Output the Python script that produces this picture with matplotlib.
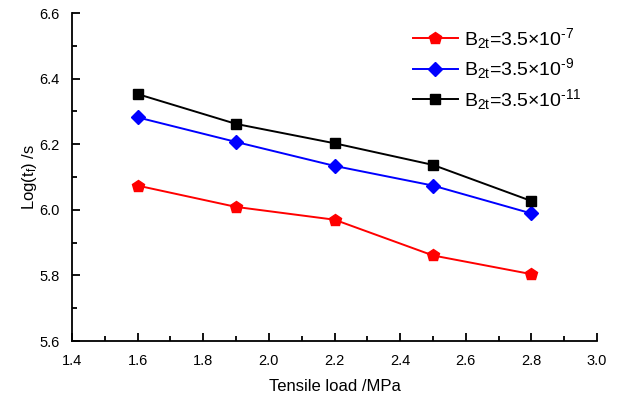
import matplotlib
matplotlib.use("Agg")
import matplotlib.pyplot as plt
from matplotlib.ticker import MultipleLocator

plt.rcParams["font.family"] = ["Liberation Sans", "DejaVu Sans"]
plt.rcParams["mathtext.fontset"] = "custom"
plt.rcParams["mathtext.rm"] = "Liberation Sans"
plt.rcParams["mathtext.it"] = "Liberation Sans"

load = [1.6, 1.9, 2.2, 2.5, 2.8]
b7 = [6.074, 6.009, 5.970, 5.861, 5.804]
b9 = [6.282, 6.207, 6.134, 6.074, 5.989]
b11 = [6.353, 6.262, 6.203, 6.137, 6.027]

series = [
    (b7, "red", "p", 9, r"B$_{\rm 2t}$=3.5×10$^{\text{-7}}$"),
    (b9, "blue", "D", 7.5, r"B$_{\rm 2t}$=3.5×10$^{\text{-9}}$"),
    (b11, "black", "s", 7.5, r"B$_{\rm 2t}$=3.5×10$^{\text{-11}}$"),
]

fig = plt.figure(figsize=(6.22, 4.08), dpi=100)
ax = fig.add_axes([0.1158, 0.164, 0.8442, 0.804])

for vals, color, marker, ms, label in series:
    ax.plot(load, vals, color=color, marker=marker, markersize=ms,
            linewidth=1.4, label=label)

ax.set_xlim(1.4, 3.0)
ax.set_ylim(5.6, 6.6)
ax.xaxis.set_major_locator(MultipleLocator(0.2))
ax.xaxis.set_minor_locator(MultipleLocator(0.1))
ax.yaxis.set_major_locator(MultipleLocator(0.2))
ax.yaxis.set_minor_locator(MultipleLocator(0.1))
ax.xaxis.set_major_formatter(plt.FormatStrFormatter("%.1f"))
ax.yaxis.set_major_formatter(plt.FormatStrFormatter("%.1f"))
ax.tick_params(which="both", direction="in", width=1.3, labelsize=10.5)
ax.tick_params(which="major", length=6)
ax.tick_params(which="minor", length=3.5)
ax.tick_params(axis="x", which="major", pad=9)
ax.tick_params(axis="y", which="major", pad=9)
for s in ("top", "right"):
    ax.spines[s].set_visible(False)
for s in ("left", "bottom"):
    ax.spines[s].set_linewidth(1.3)

ax.set_xlabel("Tensile load /MPa", fontsize=12, labelpad=8)
ax.set_ylabel(r"Log(t$_{\rm f}$) /s", fontsize=12, labelpad=0)

ax.legend(loc="upper right", bbox_to_anchor=(1.005, 1.015), frameon=False, fontsize=14,
          handlelength=2.3, handletextpad=0.35, labelspacing=0.3)

fig.savefig("out.png", dpi=100)
